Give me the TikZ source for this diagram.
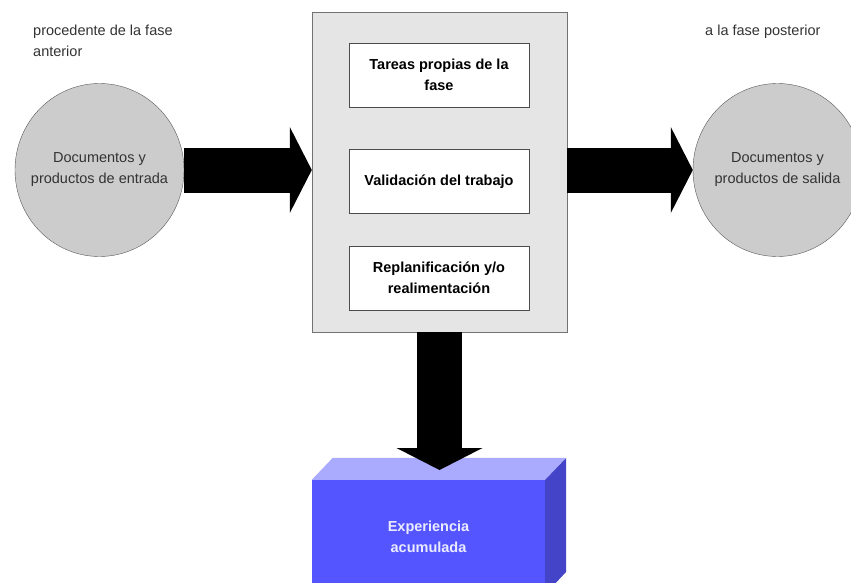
\documentclass[tikz,border=0pt]{standalone}
\usepackage{fontspec}
\setmainfont{Liberation Sans}
\usepackage{xcolor}
\usepackage{tikz}
\usetikzlibrary{arrows.meta, shapes.geometric}

\definecolor{frente}{RGB}{85,85,255}
\definecolor{tapa}{RGB}{170,170,255}
\definecolor{lado}{RGB}{68,68,200}

\begin{document}
\begin{tikzpicture}[x=1pt, y=-1pt, font=\fontsize{14.5}{21}\selectfont]
            \tikzset{
                doc/.style={draw=black!65, fill=black!20, shape = ellipse, minimum width=169pt, minimum height=173pt, inner sep=0pt},
                rotulo/.style={align=center, text=black!80},
                fase/.style={draw=black!55, fill=black!10, shape = rectangle, minimum width=255pt, minimum height=320pt},
                tarea/.style={draw=black!70, fill=white, shape = rectangle, minimum width=180pt, minimum height=64pt, align=center, font=\bfseries\fontsize{14.5}{21}\selectfont},
                nota/.style={anchor=north west, inner sep=0pt, align=left, text=black!80},
                bloque/.style={fill=frente, shape = rectangle, minimum width=233pt, minimum height=114pt, align=center, text={rgb,255:red,235;green,235;blue,255}, font=\bfseries\fontsize{14.5}{21}\selectfont},
                flecha/.style={line width=45pt, -{Triangle[length=22pt, width=86pt, line width=0pt]}}
            }
            \useasboundingbox (0,0) rectangle (851,583);
            \clip (0,0) rectangle (851,583);
            \node[nota] (antes) at (33,25) {procedente de la fase\\anterior};
            \node[nota] (despues) at (705,25) {a la fase posterior};
            \node[doc, label={[rotulo]center:Documentos y\\productos de entrada}] (entrada) at (99.5,170) {};
            \node[doc, label={[rotulo]center:Documentos y\\productos de salida}] (salida) at (777.5,170) {};
            \node[fase] (F) at (439.5,172) {};
            \node[tarea] (T1) at (439,75) {Tareas propias de la\\fase};
            \node[tarea] (T2) at (439,181.5) {Validaci\'on del trabajo};
            \node[tarea] (T3) at (439,278) {Replanificaci\'on y/o\\realimentaci\'on};
            \node[bloque] (exp) at (428.5,537) {Experiencia\\acumulada};
            \fill[tapa] (exp.north west) -- ++(21,-22) -- ++(233,0) -- (exp.north east) -- cycle;
            \fill[lado] (exp.north east) -- ++(21,-22) -- ++(0,114) -- (exp.south east) -- cycle;
            \coordinate (llegada) at (439.5,470);
            \draw[flecha] (entrada.east) -- (entrada.east -| F.west);
            \draw[flecha] (F.east |- salida.west) -- (salida.west);
            \draw[flecha] (F.south) -- (llegada);
        \end{tikzpicture}
\end{document}
